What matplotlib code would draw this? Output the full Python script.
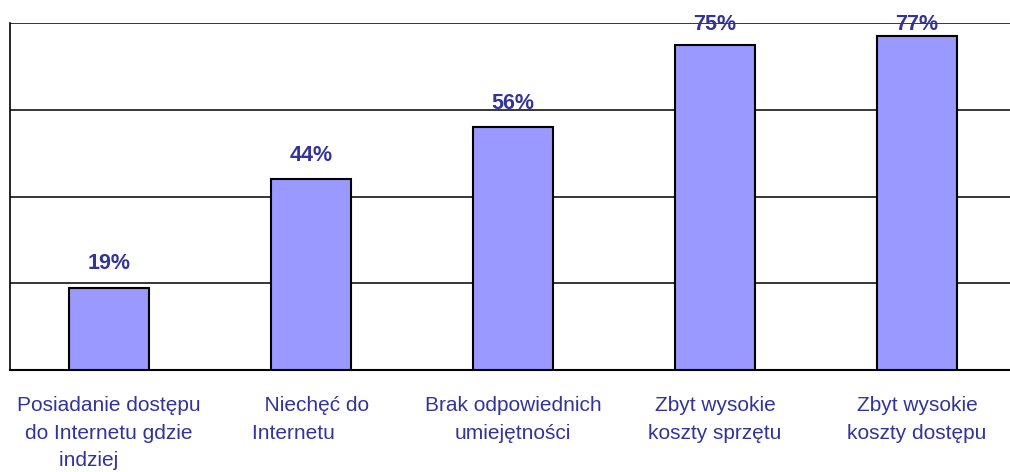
import matplotlib.pyplot as plt

categories = [
    "Posiadanie dostępu\ndo Internetu gdzie\nindziej       ",
    "  Niechęć do\nInternetu      ",
    "Brak odpowiednich\numiejętności",
    "Zbyt wysokie\nkoszty sprzętu",
    "Zbyt wysokie\nkoszty dostępu",
]
values = [0.19, 0.44, 0.56, 0.75, 0.77]
labels = ["19%", "44%", "56%", "75%", "77%"]
grid_levels = [0.2, 0.4, 0.6, 0.8]

bar_color = "#9999FF"
text_color = "#333399"

plt.rcParams['font.family'] = ['Liberation Sans', 'DejaVu Sans']

fig = plt.figure(figsize=(10.1, 4.72), dpi=100)
ax = fig.add_axes([10 / 1010, 102 / 472, 1000 / 1010, 347 / 472])

x = list(range(len(values)))
ax.bar(x, values, width=0.4, color=bar_color, edgecolor="black", linewidth=1.5, zorder=3)

for lvl in grid_levels:
    ax.axhline(lvl, color="black", linewidth=1.1, zorder=1)

# labels sit above the bars, but are kept inside the plot area (as Excel does)
for xi, v, lab in zip(x, values, labels):
    y_lab = min(v + 0.031, 0.772)
    ax.text(xi, y_lab, lab, ha="center", va="bottom", fontsize=15.5,
            fontweight="bold", color=text_color, zorder=4)

ax.set_xlim(-0.49, 4.46)
ax.set_ylim(0, 0.8)
ax.set_xticks(x)
ax.set_xticklabels(categories, fontsize=15, color=text_color, linespacing=1.55,
                   multialignment="center")
ax.tick_params(axis="x", length=0, pad=19)
ax.set_yticks([])

for side in ["top", "right"]:
    ax.spines[side].set_visible(False)
ax.spines["left"].set_linewidth(1.2)
ax.spines["bottom"].set_linewidth(1.5)

fig.savefig("out.png", dpi=100)
